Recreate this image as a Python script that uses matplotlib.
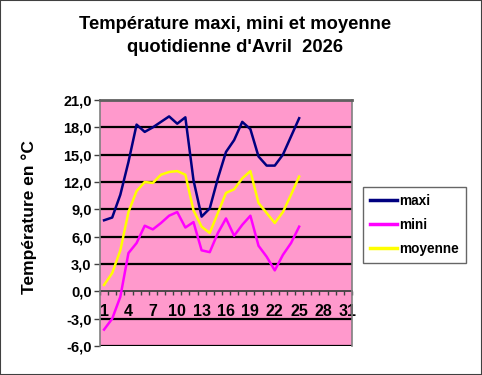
import numpy as np
import matplotlib.pyplot as plt
from matplotlib.patches import Rectangle

plt.rcParams['font.family'] = ['Liberation Sans', 'DejaVu Sans']
plt.rcParams['font.weight'] = 'bold'

# ----------- DONNÉES -----------
jours = list(range(1, 26))
maxi = [7.8, 8.1, 10.6, 14.2, 18.3, 17.5, 18.0, 18.6, 19.2, 18.4, 19.1, 12.2, 8.2,
        9.1, 12.4, 15.3, 16.6, 18.6, 17.8, 14.8, 13.8, 13.8, 15.0, 17.0, 19.0]
mini = [-4.2, -3.0, -0.6, 4.2, 5.3, 7.2, 6.8, 7.5, 8.3, 8.7, 7.0, 7.6, 4.5,
        4.3, 6.4, 8.0, 6.1, 7.3, 8.3, 5.0, 3.8, 2.3, 4.0, 5.3, 7.1]
moyenne = [0.7, 2.0, 4.5, 8.7, 11.0, 12.0, 11.9, 12.8, 13.1, 13.2, 12.8, 8.9, 7.1,
           6.4, 8.6, 10.8, 11.2, 12.4, 13.2, 9.7, 8.6, 7.5, 8.7, 10.6, 12.6]
jours_labels = [1, 4, 7, 10, 13, 16, 19, 22, 25, 28, 31]
y_ticks = [-6, -3, 0, 3, 6, 9, 12, 15, 18, 21]

# ----------- FIGURE -----------
fig = plt.figure(figsize=(4.82, 3.75), dpi=100)
fig.patches.append(Rectangle((0, 0), 1, 1, transform=fig.transFigure,
                             fill=False, edgecolor='#404040', linewidth=1.5))

ax = fig.add_axes([100 / 482, 1 - 346 / 375, 252 / 482, 246 / 375])
ax.set_facecolor('#FF99CC')

for v in y_ticks:
    if v != 0:
        ax.axhline(v, color='black', linewidth=1.6, zorder=1)

ax.plot(jours, maxi, color='#000080', linewidth=1.8, label='maxi', zorder=3)
ax.plot(jours, mini, color='#FF00FF', linewidth=1.8, label='mini', zorder=3)
ax.plot(jours, moyenne, color='#FFFF00', linewidth=1.8, label='moyenne', zorder=3)

ax.set_xlim(0.5, 31.5)
ax.set_ylim(-6, 21)

ax.set_yticks(y_ticks)
ax.set_yticklabels([f"{v:.1f}".replace('.', ',') for v in y_ticks], fontsize=10.5)
ax.tick_params(axis='y', length=4, width=1, color='#404040', pad=2)

# axe des x à 0
ax.spines['bottom'].set_position(('data', 0))
ax.spines['bottom'].set_color('#404040')
ax.spines['bottom'].set_linewidth(1.3)
ax.spines['bottom'].set_zorder(2)
for s in ['top', 'left', 'right']:
    ax.spines[s].set_color('#808080')
    ax.spines[s].set_linewidth(1.2)
ax.set_xticks(jours_labels)
ax.set_xticklabels([str(j) for j in jours_labels], fontsize=11.5)
ax.set_xticks(np.arange(0.5, 32, 1), minor=True)
ax.tick_params(axis='x', which='major', length=0, pad=9)
ax.tick_params(axis='x', which='minor', length=3, width=1, color='#404040', direction='out')

# bordure haute grise épaisse
ax.spines['top'].set_color('#606060')
ax.spines['top'].set_linewidth(2)

ax.set_ylabel('Température en °C', fontsize=12.5, fontweight='bold')
ax.yaxis.set_label_coords(-0.25, 0.524)

fig.text(0.488, 1 - 36 / 375, "Température maxi, mini et moyenne\nquotidienne d'Avril  2026",
         ha='center', va='center', fontsize=13.2, fontweight='bold', linespacing=1.4)

leg = fig.legend(loc='upper left', bbox_to_anchor=(363 / 482, 1 - 187 / 375),
                 frameon=True, fancybox=False, edgecolor='#404040', fontsize=9.8,
                 handlelength=2.0, borderpad=0.5, labelspacing=0.75, handletextpad=0.15,
                 borderaxespad=0)
leg.get_frame().set_linewidth(1)
for line in leg.get_lines():
    line.set_linewidth(2.5)

fig.savefig('out.png', dpi=100)
